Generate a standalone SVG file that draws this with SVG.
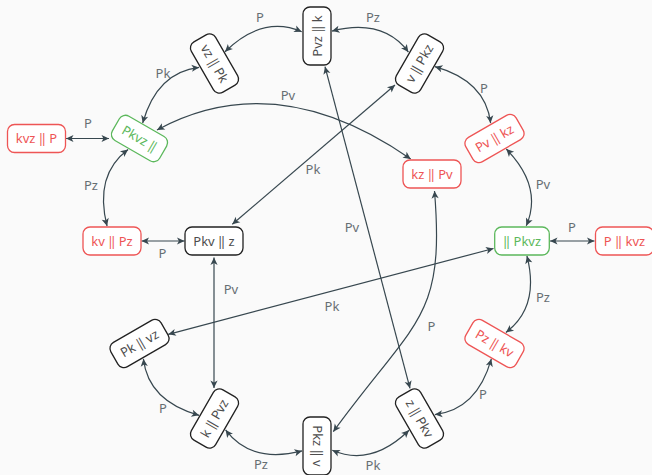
<svg xmlns="http://www.w3.org/2000/svg" width="652" height="475" viewBox="0 0 652 475">
<style>
.bg{fill:#fafafa}
.n rect{fill:#ffffff;stroke-width:1.3}
.n text{font-family:"Noto Sans","Open Sans",sans-serif;font-size:13px;text-anchor:middle}
.k rect{stroke:#222222}.k text{fill:#4d4d4d}
.r rect{stroke:#ee5555}.r text{fill:#ee5555}
.g rect{stroke:#5cb85c}.g text{fill:#5cb85c}
.e path{fill:none;stroke:#37474f;stroke-width:1.2;marker-start:url(#a);marker-end:url(#a)}
.l text{font-family:"Noto Sans","Open Sans",sans-serif;font-size:13px;text-anchor:middle;fill:#666e72}
</style>
<defs>
<marker id="a" viewBox="-9 -5 10 10" refX="0" refY="0" markerWidth="10" markerHeight="10" orient="auto-start-reverse" markerUnits="userSpaceOnUse">
<path d="M0,0 L-7.5,-3.6 L-5.6,0 L-7.5,3.6 Z" fill="#37474f"/>
</marker>
</defs>
<rect class="bg" width="652" height="475"/>
<g id="connectors" class="e">
<path d="M301.7,31.7 Q262.7,14.9 225,51.7"/>
<path d="M301.7,31.7 Q262.7,14.9 225,51.7" transform="rotate(-30 317 241)"/>
<path d="M301.7,31.7 Q262.7,14.9 225,51.7" transform="rotate(-60 317 241)"/>
<path d="M301.7,31.7 Q262.7,14.9 225,51.7" transform="rotate(30 317 241)"/>
<path d="M301.7,31.7 Q262.7,14.9 225,51.7" transform="rotate(60 317 241)"/>
<path d="M301.7,31.7 Q262.7,14.9 225,51.7" transform="rotate(90 317 241)"/>
<path d="M301.7,31.7 Q262.7,14.9 225,51.7" transform="rotate(120 317 241)"/>
<path d="M301.7,31.7 Q262.7,14.9 225,51.7" transform="rotate(150 317 241)"/>
<path d="M301.7,31.7 Q262.7,14.9 225,51.7" transform="rotate(180 317 241)"/>
<path d="M301.7,31.7 Q262.7,14.9 225,51.7" transform="rotate(210 317 241)"/>
<path d="M301.7,31.7 Q262.7,14.9 225,51.7" transform="rotate(240 317 241)"/>
<path d="M66,138.5 L109,138.5"/>
<path d="M141.5,241 L184.5,241"/>
<path d="M550,241 L594.5,241"/>
<path d="M214,257.5 L214,388"/>
<path d="M395,85 L232.3,224.3"/>
<path d="M493.5,248.5 L168.3,334.3"/>
<path d="M325,66.7 L410,388.3"/>
<path d="M157,130 Q276,65.5 410.7,159"/>
<path d="M434.5,191 C445,320 415.9,318.3 333.3,431.7"/>
</g>
<g id="labels" class="l">
<text x="260" y="21.5">P</text>
<text x="373" y="21.5">Pz</text>
<text x="163" y="77.5">Pk</text>
<text x="484" y="92.5">P</text>
<text x="91" y="189.5">Pz</text>
<text x="543" y="188.5">Pv</text>
<text x="543" y="301.5">Pz</text>
<text x="483" y="398.5">P</text>
<text x="373" y="469.5">Pk</text>
<text x="261" y="468.5">Pz</text>
<text x="163" y="412.5">P</text>
<text x="88" y="128">P</text>
<text x="162.5" y="258">P</text>
<text x="572" y="231.5">P</text>
<text x="231" y="293.5">Pv</text>
<text x="313" y="173.5">Pk</text>
<text x="332" y="310.5">Pk</text>
<text x="352" y="232">Pv</text>
<text x="288" y="99.5">Pv</text>
<text x="431.5" y="331">P</text>
</g>
<g id="n1" class="n k" transform="translate(317 36) rotate(-90)"><rect x="-29" y="-14" width="58" height="28" rx="7"/><text y="4.5">Pvz ‖ k</text></g>
<g id="n2" class="n k" transform="translate(214.5 63.5) rotate(60)"><rect x="-29" y="-14" width="58" height="28" rx="7"/><text y="4.5">vz ‖ Pk</text></g>
<g id="n3" class="n g" transform="translate(139.5 138.5) rotate(30)"><rect x="-27.3" y="-14" width="54.6" height="28" rx="7"/><text y="4.5">Pkvz ‖</text></g>
<g id="n4" class="n r" transform="translate(112 241)"><rect x="-29" y="-14" width="58" height="28" rx="7"/><text y="4.5">kv ‖ Pz</text></g>
<g id="n5" class="n k" transform="translate(139.5 343.5) rotate(-30)"><rect x="-29" y="-14" width="58" height="28" rx="7"/><text y="4.5">Pk ‖ vz</text></g>
<g id="n6" class="n k" transform="translate(214.5 418.5) rotate(-60)"><rect x="-29" y="-14" width="58" height="28" rx="7"/><text y="4.5">k ‖ Pvz</text></g>
<g id="n7" class="n k" transform="translate(317 446) rotate(90)"><rect x="-29" y="-14" width="58" height="28" rx="7"/><text y="4.5">Pkz ‖ v</text></g>
<g id="n8" class="n k" transform="translate(419.5 418.5) rotate(60)"><rect x="-29" y="-14" width="58" height="28" rx="7"/><text y="4.5">z ‖ Pkv</text></g>
<g id="n9" class="n r" transform="translate(494.5 343.5) rotate(30)"><rect x="-29" y="-14" width="58" height="28" rx="7"/><text y="4.5">Pz ‖ kv</text></g>
<g id="n10" class="n g" transform="translate(522 241)"><rect x="-27.3" y="-14" width="54.6" height="28" rx="7"/><text y="4.5">‖ Pkvz</text></g>
<g id="n11" class="n r" transform="translate(494.5 138.5) rotate(-30)"><rect x="-29" y="-14" width="58" height="28" rx="7"/><text y="4.5">Pv ‖ kz</text></g>
<g id="n12" class="n k" transform="translate(419.5 63.5) rotate(-60)"><rect x="-29" y="-14" width="58" height="28" rx="7"/><text y="4.5">v ‖ Pkz</text></g>
<g id="n13" class="n r" transform="translate(36.5 138.5)"><rect x="-29" y="-14" width="58" height="28" rx="7"/><text y="4.5">kvz ‖ P</text></g>
<g id="n14" class="n r" transform="translate(624.5 241)"><rect x="-29" y="-14" width="58" height="28" rx="7"/><text y="4.5">P ‖ kvz</text></g>
<g id="n15" class="n r" transform="translate(432 174)"><rect x="-29" y="-14" width="58" height="28" rx="7"/><text y="4.5">kz ‖ Pv</text></g>
<g id="n16" class="n k" transform="translate(214 241)"><rect x="-29" y="-14" width="58" height="28" rx="7"/><text y="4.5">Pkv ‖ z</text></g>
</svg>
